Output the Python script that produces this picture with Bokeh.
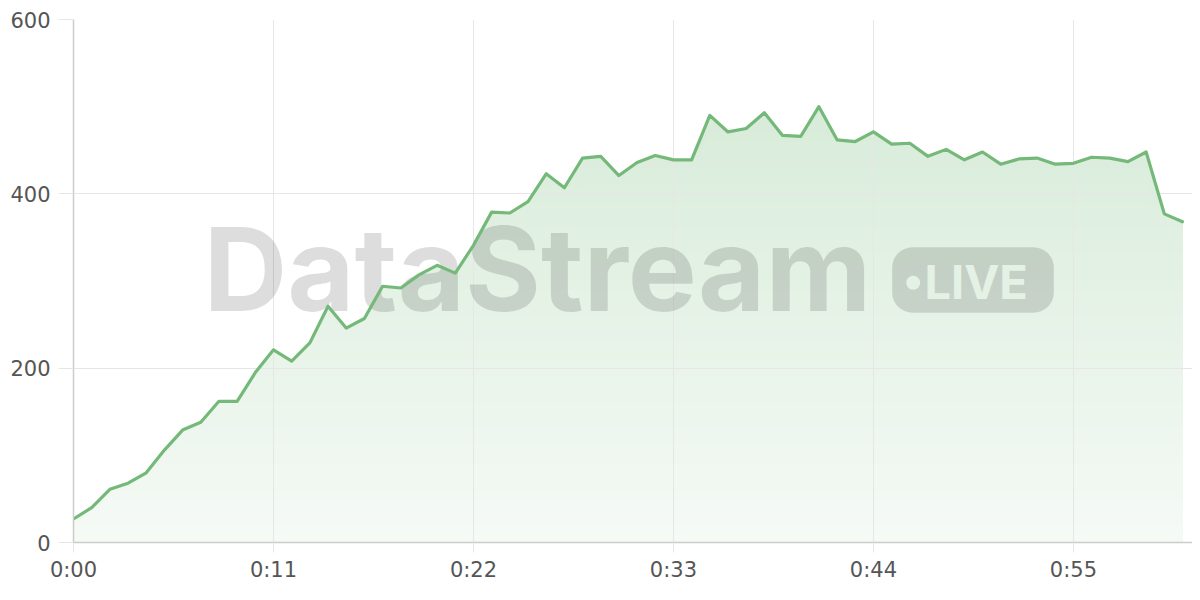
import numpy as np
from bokeh.plotting import figure
from bokeh.models import Range1d, FixedTicker, Label, BoxAnnotation, ColumnDataSource
from bokeh.embed import file_html
from bokeh.resources import INLINE

# ---- data ----
seconds = list(range(62))
values = [27, 40, 61, 68, 80, 106, 129, 138, 162, 162,
          195, 221, 208, 229, 271, 246, 257, 294, 292, 307,
          318, 309, 341, 379, 378, 391, 423, 407, 441, 443,
          421, 436, 444, 439, 439, 490, 471, 475, 493, 467,
          466, 500, 462, 460, 471, 457, 458, 443, 451, 439,
          448, 434, 440, 441, 434, 435, 442, 441, 437, 448,
          377, 368]
x_ticks = [0, 11, 22, 33, 44, 55]
x_tick_labels = ["0:00", "0:11", "0:22", "0:33", "0:44", "0:55"]
y_ticks = [0, 200, 400, 600]
y_tick_labels = ["0", "200", "400", "600"]

watermark_text = "DataStream"
badge_text = "LIVE"

# ---- figure ----
FRAME_L, FRAME_T, FRAME_B = 73, 19, 543
W, H = 1192, 584
X_MAX = 61.55
p = figure(width=W, height=H, output_backend="svg", toolbar_location=None,
           x_range=Range1d(0, X_MAX), y_range=Range1d(0, 600),
           min_border_left=FRAME_L, min_border_right=0,
           min_border_top=FRAME_T, min_border_bottom=H - FRAME_B)
p.outline_line_color = None
p.background_fill_color = "white"
p.border_fill_color = "white"

base = np.array([115, 185, 120])
vals = np.array(values, dtype=float)
xs = np.array(seconds, dtype=float)

def band_color(frac, alpha_lo=0.07, alpha_hi=0.32):
    a = alpha_lo + (alpha_hi - alpha_lo) * frac
    c = 255 - a * (255 - base)
    return "#%02x%02x%02x" % tuple(int(round(v)) for v in c)

# gradient fill: draw tallest bands first, lower bands on top
levels = np.arange(600, 0, -10)
for hi in levels:
    top = np.minimum(vals, hi)
    src = ColumnDataSource(dict(x=xs, y1=np.zeros_like(vals), y2=top))
    r = p.varea(x="x", y1="y1", y2="y2", source=src,
                fill_color=band_color((hi - 5) / 600.0), fill_alpha=1.0)
    r.level = "image"

# watermark placement helpers (screen px -> data units)
def dx(px):
    return (px - FRAME_L) / ((W - FRAME_L) / X_MAX)

def dy(py):
    return (FRAME_B - py) / ((FRAME_B - FRAME_T) / 600)

wm = Label(x=dx(203), y=dy(269), text=watermark_text, text_font="Inter",
           text_font_size="116px", text_font_style="bold", text_color="black",
           text_alpha=0.135, text_baseline="alphabetic", text_align="left")
wm.level = "underlay"
p.add_layout(wm)

badge = BoxAnnotation(left=dx(891.7), right=dx(1053.3), top=dy(247.3), bottom=dy(312.7),
                      fill_color="black", fill_alpha=0.135, line_alpha=0,
                      border_radius=20)
badge.level = "underlay"
p.add_layout(badge)

knock = band_color(0.5)
dot = BoxAnnotation(left=dx(905.7), right=dx(919.7), top=dy(275.7), bottom=dy(289.7),
                    fill_color=knock, fill_alpha=1.0, line_alpha=0, border_radius=7)
dot.level = "underlay"
p.add_layout(dot)

live = Label(x=dx(924), y=dy(281), text=badge_text, text_font="Inter",
             text_font_size="47px", text_font_style="bold", text_color=knock,
             text_baseline="alphabetic", text_align="left")
live.level = "underlay"
p.add_layout(live)

# line
p.line(xs, vals, line_color="#74b979", line_width=3.2, line_join="round", line_cap="round")

# axes & grid
p.xaxis.ticker = FixedTicker(ticks=x_ticks)
p.yaxis.ticker = FixedTicker(ticks=y_ticks)
p.xaxis.major_label_overrides = dict(zip(x_ticks, x_tick_labels))
p.yaxis.major_label_overrides = dict(zip(y_ticks, y_tick_labels))
for ax in (p.xaxis, p.yaxis):
    ax.axis_line_color = "#cccccc"
    ax.axis_line_width = 1.5
    ax.major_tick_line_color = "#e6e6e6"
    ax.major_tick_in = 0
    ax.minor_tick_line_color = None
    ax.major_label_text_font = "DejaVu Sans"
    ax.major_label_text_font_size = "21px"
    ax.major_label_text_color = "#555555"
p.yaxis.major_tick_out = 15
p.xaxis.major_tick_out = 10
p.xaxis.major_label_standoff = 5
p.yaxis.major_label_standoff = 8

p.xgrid.grid_line_color = "#e6e6e6"
p.ygrid.grid_line_color = "#e6e6e6"
p.xgrid.grid_line_width = 1
p.ygrid.grid_line_width = 1

open("out.html", "w").write(file_html(p, INLINE))
